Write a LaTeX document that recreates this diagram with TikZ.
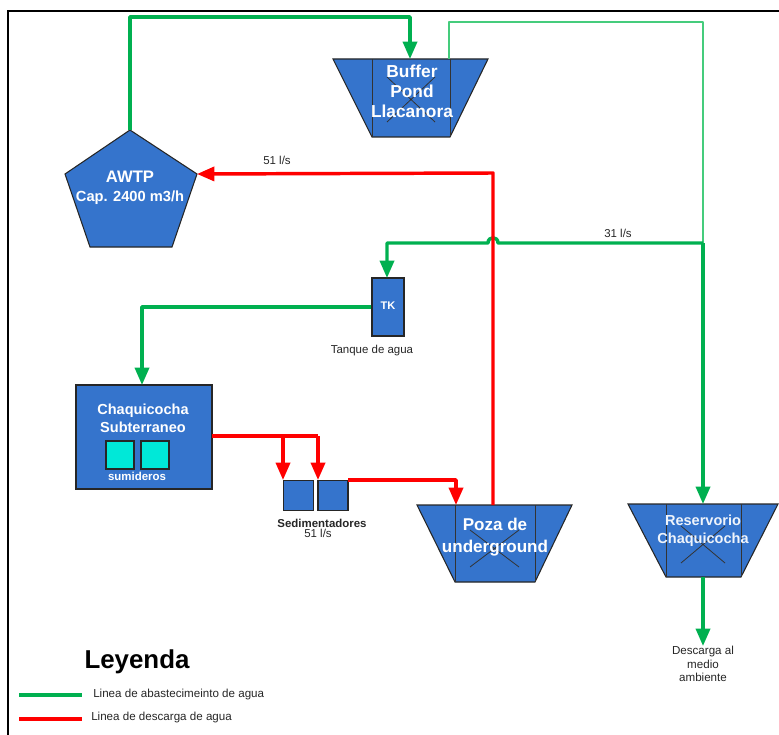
\documentclass[tikz,border=0pt]{standalone}
\usepackage{fontspec}
\setmainfont{Liberation Sans}
\usetikzlibrary{arrows.meta}
\definecolor{cBlue}{HTML}{3574CC}
\definecolor{cCyan}{HTML}{00E8D8}
\definecolor{cGreen}{HTML}{00B050}
\definecolor{cLight}{HTML}{45CC7C}
\definecolor{cText}{HTML}{262626}
\newcommand{\fs}[2]{\fontsize{#1}{#2}\selectfont}
\begin{document}
\begin{tikzpicture}[x=0.75pt,y=-0.75pt,
  shp/.style={fill=cBlue,draw=black!85,line width=0.8pt},
  xline/.style={draw=black!80,line width=0.6pt},
  gline/.style={draw=cGreen,line width=2.6pt},
  lgline/.style={draw=cLight,line width=2.1pt},
  rline/.style={draw=red,line width=2.6pt},
  tip/.style={-{Triangle[length=13pt,width=10.5pt]}},
  wlabel/.style={text=white,inner sep=0pt,align=center},
  lbl/.style={text=cText,inner sep=0pt,align=center},
  rbox/.style={shp,inner sep=0pt},
]
\useasboundingbox (0,0) rectangle (779,735);
% frame
\draw[black,line width=1.1pt] (779,11) -- (8,11) -- (8,735);

% ---- Buffer Pond
\filldraw[shp] (333,59) -- (488,59) -- (450,137) -- (372,137) -- cycle;
\draw[xline] (372,59) -- (372,137) (450,59) -- (450,137);
\draw[xline] (387,77) -- (435,122) (435,77) -- (387,122);
\node[wlabel,font={\bfseries\fs{13}{15}}] (buffer) at (412,91) {Buffer\\Pond\\Llacanora};
\coordinate (bufIn) at (410,59);
\coordinate (bufOut) at (449,59);

% ---- AWTP
\filldraw[shp] (130,130) -- (197,174) -- (172,247) -- (90,247) -- (65,174) -- cycle;
\node[wlabel,font={\bfseries\fs{12.5}{14}}] (awtp) at (130,177) {AWTP};
\node[wlabel,font={\bfseries\fs{11}{13}}] (awtpcap) at (130,198) {Cap. 2400 m3/h};
\coordinate (awtpTop) at (130,130);
\coordinate (awtpRight) at (197,174);

% ---- TK
\node[rbox,minimum width=24pt,minimum height=43.5pt] (tk) at (388,307) {};
\node[wlabel,font={\bfseries\fs{8.3}{9}}] (tktext) at (388,306) {TK};
\node[lbl,font={\fs{8.6}{10}}] (tanque) at (372,351) {Tanque de agua};
\coordinate (tkIn) at (387,278);

% ---- Chaquicocha subterraneo
\node[rbox,minimum width=102pt,minimum height=78pt] (chaq) at (144,437) {};
\node[wlabel,font={\bfseries\fs{10.9}{13.5}}] (chaqtext) at (143,418) {Chaquicocha\\Subterraneo};
\node[fill=cCyan,draw=black!85,line width=0.8pt,minimum size=21pt,inner sep=0pt] (sum1) at (120,455) {};
\node[fill=cCyan,draw=black!85,line width=0.8pt,minimum size=21pt,inner sep=0pt] (sum2) at (155,455) {};
\node[wlabel,font={\bfseries\fs{8.6}{10}}] (sumtext) at (137,476) {sumideros};
\coordinate (chaqIn) at (142,385);
\coordinate (chaqOut) at (212,436);

% ---- Sedimentadores
\node[rbox,minimum size=22.5pt] (sed1) at (298.5,495.5) {};
\node[rbox,minimum size=22.5pt] (sed2) at (333,495.5) {};
\node[lbl,font={\bfseries\fs{8.6}{10}}] (sedtext) at (322,523) {Sedimentadores};
\node[lbl,font={\fs{8.6}{10}}] (sedq) at (318,533.5) {51 l/s};
\coordinate (s1in) at (283,480);
\coordinate (s2in) at (318,480);
\coordinate (s2out) at (348,480);

% ---- Poza de underground
\filldraw[shp] (417,505) -- (572,505) -- (535,582) -- (455,582) -- cycle;
\draw[xline] (455,505) -- (455,582) (535,505) -- (535,582);
\draw[xline] (470,530) -- (519,567) (519,530) -- (470,567);
\node[wlabel,font={\bfseries\fs{12.8}{16.5}}] (poza) at (495,537) {Poza de\\underground};
\coordinate (pozaIn) at (456,505);
\coordinate (pozaOut) at (493,505);

% ---- Reservorio Chaquicocha
\filldraw[shp] (628,504) -- (778,504) -- (741,577) -- (666,577) -- cycle;
\draw[xline] (666,504) -- (666,577) (741,504) -- (741,577);
\draw[xline] (681,526) -- (725,563) (725,526) -- (681,563);
\node[wlabel,text=white!92!cBlue,font={\bfseries\fs{10.9}{13.5}}] (res) at (703,531) {Reservorio\\Chaquicocha};
\coordinate (resIn) at (703,504);
\coordinate (resOut) at (703,577);
\node[lbl,anchor=north,font={\fs{8.7}{10}}] (desc) at (703,646) {Descarga al\\medio\\ambiente};

% ---- connectors
\coordinate (junc) at (703,243);
\draw[gline,tip,line join=round] (awtpTop) -- (130,17) -- (410,17) -- (bufIn);
\draw[lgline,line join=round] (bufOut) -- (449,22) -- (703,22) -- (junc);
\draw[gline,tip] (junc) -- (resIn);
\draw[gline,tip,line join=round] (junc) -- (498,243) .. controls (498,236) and (488,236) .. (488,243) -- (387,243) -- (tkIn);
\node[lbl,font={\fs{8.6}{10}}] (q31) at (618,233) {31 l/s};
\draw[gline,tip,line join=round] (tk.west) -| (chaqIn);

\draw[rline,tip,line join=round] (pozaOut) -- (493,173) -- (awtpRight);
\node[lbl,font={\fs{8.6}{10}}] (q51) at (277,160) {51 l/s};
\draw[rline,line join=round] (chaqOut) -- (318,436);
\draw[rline,tip] (283,436) -- (s1in);
\draw[rline,tip] (318,436) -- (s2in);
\draw[rline,tip,line join=round] (s2out) -| (pozaIn);

\draw[gline,tip] (resOut) -- (desc.north);

% ---- legend
\node[inner sep=0pt,font={\bfseries\fs{19.4}{22}}] (leyenda) at (137,662) {Leyenda};
\coordinate (lg1a) at (19,695);
\coordinate (lg1b) at (82,695);
\coordinate (lg2a) at (19,719);
\coordinate (lg2b) at (82,719);
\draw[gline] (lg1a) -- (lg1b);
\draw[rline] (lg2a) -- (lg2b);
\node[lbl,anchor=west,font={\fs{8.7}{10}}] (lgt1) at (93,694) {Linea de abastecimeinto de agua};
\node[lbl,anchor=west,font={\fs{8.7}{10}}] (lgt2) at (91,717) {Linea de descarga de agua};
\end{tikzpicture}
\end{document}
